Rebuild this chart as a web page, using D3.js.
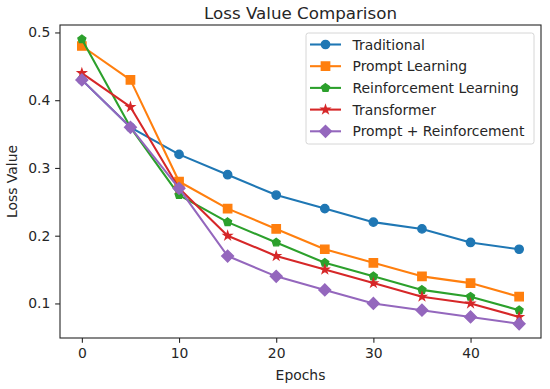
<!DOCTYPE html>
<html><head><meta charset="utf-8">
<script src="https://cdn.jsdelivr.net/npm/d3@7"></script>
<style>body{margin:0;background:#fff}svg{display:block}text{font-family:"DejaVu Sans",sans-serif;fill:#262626}</style>
</head><body>
<svg id="c" width="550" height="389"></svg>
<script>
const epochs = [0,5,10,15,20,25,30,35,40,45];
const traditional = [0.43,0.36,0.32,0.29,0.26,0.24,0.22,0.21,0.19,0.18];
const promptLearning = [0.48,0.43,0.28,0.24,0.21,0.18,0.16,0.14,0.13,0.11];
const reinforcement = [0.49,0.36,0.26,0.22,0.19,0.16,0.14,0.12,0.11,0.09];
const transformer = [0.44,0.39,0.27,0.20,0.17,0.15,0.13,0.11,0.10,0.08];
const promptReinf = [0.43,0.36,0.27,0.17,0.14,0.12,0.10,0.09,0.08,0.07];
const seriesNames = ["Traditional","Prompt Learning","Reinforcement Learning","Transformer","Prompt + Reinforcement"];
const colors = ["#1f77b4","#ff7f0e","#2ca02c","#d62728","#9467bd"];
const xTicks = [0,10,20,30,40];
const yTicks = [0.1,0.2,0.3,0.4,0.5];

const series = [traditional,promptLearning,reinforcement,transformer,promptReinf];
const markers = ["circle","square","pentagon","star","diamond"];

const svg = d3.select("#c");
const L=60,R=541,T=25,B=338;
const FS = 13.9;
const x = d3.scaleLinear().domain([-2.25,47.25]).range([L,R]);
const y = d3.scaleLinear().domain([0.049,0.511]).range([B,T]);

const ms = 8.33; // marker size px
function poly(n, r, inner){
  const pts=[];
  const cnt = inner ? n*2 : n;
  for(let i=0;i<cnt;i++){
    const a=-Math.PI/2+i*Math.PI*2/cnt;
    const rr = inner ? (i%2===0 ? r : r*inner) : r;
    pts.push([rr*Math.cos(a), rr*Math.sin(a)]);
  }
  return "M"+pts.map(p=>p[0].toFixed(2)+","+p[1].toFixed(2)).join("L")+"Z";
}
function markerPath(kind){
  const h = ms/2;
  if(kind==="circle") return d3.symbol().type(d3.symbolCircle).size(Math.PI*h*h)();
  if(kind==="square") return `M${-h},${-h}H${h}V${h}H${-h}Z`;
  if(kind==="pentagon") return poly(5,h);
  if(kind==="star") return poly(5,h,0.381966);
  const d = ms*Math.SQRT1_2;
  return `M0,${-d}L${d},0L0,${d}L${-d},0Z`;
}

// axes
const gx = svg.append("g").attr("transform",`translate(0,${B})`)
  .call(d3.axisBottom(x).tickValues(xTicks).tickSize(4.86).tickPadding(4.86));
const gy = svg.append("g").attr("transform",`translate(${L},0)`)
  .call(d3.axisLeft(y).tickValues(yTicks).tickSize(4.86).tickPadding(4.86).tickFormat(d3.format(".1f")));
[gx,gy].forEach(g=>{g.select(".domain").remove();g.selectAll("text").attr("font-size",FS).attr("font-family","DejaVu Sans").attr("fill","#262626");g.selectAll("line").attr("stroke","#262626").attr("stroke-width",1.1);});

// lines
const line = d3.line().x((d,i)=>x(epochs[i])).y(d=>y(d));
series.forEach((s,k)=>{
  svg.append("path").datum(s).attr("d",line).attr("fill","none").attr("stroke",colors[k]).attr("stroke-width",2.08).attr("stroke-linejoin","round");
  svg.selectAll(null).data(s).enter().append("path")
    .attr("d",markerPath(markers[k]))
    .attr("transform",(d,i)=>`translate(${x(epochs[i])},${y(d)})`)
    .attr("fill",colors[k]).attr("stroke",colors[k]).attr("stroke-width",1.39).attr("stroke-linejoin","miter");
});

// frame
svg.append("rect").attr("x",L).attr("y",T).attr("width",R-L).attr("height",B-T).attr("fill","none").attr("stroke","#262626").attr("stroke-width",1.1);

// title, labels
svg.append("text").attr("x",(L+R)/2).attr("y",18.5).attr("text-anchor","middle").attr("font-size",16.7).text("Loss Value Comparison");
svg.append("text").attr("x",(L+R)/2).attr("y",380).attr("text-anchor","middle").attr("font-size",FS).text("Epochs");
svg.append("text").attr("transform",`translate(17,${(T+B)/2}) rotate(-90)`).attr("text-anchor","middle").attr("font-size",FS).text("Loss Value");

// legend
const lg = svg.append("g");
lg.append("rect").attr("x",306).attr("y",33).attr("width",228).attr("height",111).attr("rx",2.5)
  .attr("fill","#fff").attr("fill-opacity",0.8).attr("stroke","#d6d6d6");
seriesNames.forEach((n,k)=>{
  const yy = 44.5 + k*21.7;
  lg.append("line").attr("x1",310).attr("x2",341).attr("y1",yy).attr("y2",yy).attr("stroke",colors[k]).attr("stroke-width",2.08);
  lg.append("path").attr("d",markerPath(markers[k])).attr("transform",`translate(325.5,${yy})`).attr("fill",colors[k]).attr("stroke",colors[k]).attr("stroke-width",1.39);
  lg.append("text").attr("x",352.5).attr("y",yy+5).attr("font-size",FS).text(n);
});
</script>
</body></html>
